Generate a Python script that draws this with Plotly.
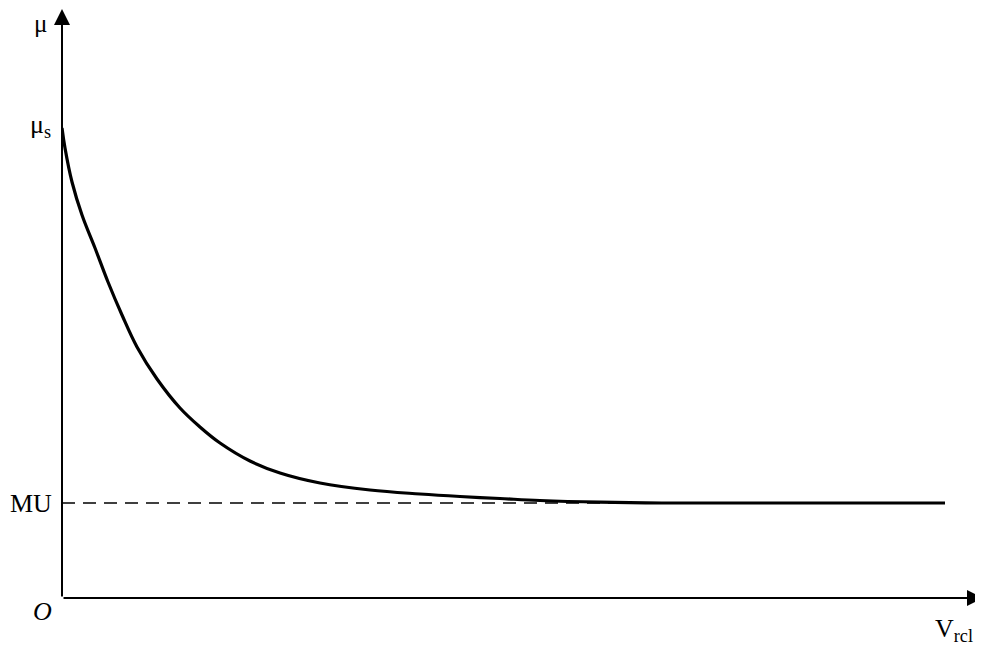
import plotly.graph_objects as go

# Curve (x: relative velocity units, y: friction units; origin at 0,0)
curve_x = [0, 3, 10, 20, 33, 46, 60, 75, 95, 118, 138, 158, 188, 218, 258, 308, 358, 398, 438, 478, 538, 600, 883]
curve_y = [470, 450, 416, 383, 350, 316, 283, 251, 219, 190, 171, 155, 137, 125, 115, 108, 104, 101.5, 99.5, 97.5, 95.8, 95, 95]
mu_kinetic = 95
mu_static = 470
x_end = 883

FONT = "Liberation Serif, Times New Roman, serif"
X_RANGE = [0, 929]
Y_RANGE = [0, 590]

fig = go.Figure()
fig.add_trace(go.Scatter(x=[0, x_end], y=[mu_kinetic, mu_kinetic], mode="lines",
                         line=dict(color="black", width=1.6, dash="13px,8px"),
                         hoverinfo="skip", showlegend=False))
fig.add_trace(go.Scatter(x=curve_x, y=curve_y, mode="lines",
                         line=dict(color="black", width=3.2, shape="spline", smoothing=1.1),
                         showlegend=False))

# axes with arrows
fig.add_annotation(x=0, y=589, ax=0, ay=0, xref="x", yref="y", axref="x", ayref="y",
                   showarrow=True, arrowhead=2, arrowsize=1.6, arrowwidth=2, arrowcolor="black", text="")
fig.add_annotation(x=921, y=0, ax=0, ay=0, xref="x", yref="y", axref="x", ayref="y",
                   showarrow=True, arrowhead=2, arrowsize=1.6, arrowwidth=2, arrowcolor="black", text="")


def px(xv):
    return (xv - X_RANGE[0]) / (X_RANGE[1] - X_RANGE[0])


def py(yv):
    return (yv - Y_RANGE[0]) / (Y_RANGE[1] - Y_RANGE[0])


labels = [
    (-22, 575, "μ", 25),
    (-22, mu_static + 2, "μ<sub>s</sub>", 26),
    (-31, mu_kinetic, "MU", 26),
    (-20, -13, "<i>O</i>", 26),
    (892, -32, "V<sub>rcl</sub>", 26),
]
for x, y, t, s in labels:
    fig.add_annotation(x=px(x), y=py(y), xref="paper", yref="paper", text=t, showarrow=False,
                       xanchor="center", yanchor="middle",
                       font=dict(family=FONT, size=s, color="black"))

fig.update_layout(
    width=983, height=646,
    margin=dict(l=54, r=0, t=0, b=56),
    paper_bgcolor="white", plot_bgcolor="white",
    xaxis=dict(range=X_RANGE, visible=False, showgrid=False, zeroline=False),
    yaxis=dict(range=Y_RANGE, visible=False, showgrid=False, zeroline=False),
)
fig.write_html("out.html")
